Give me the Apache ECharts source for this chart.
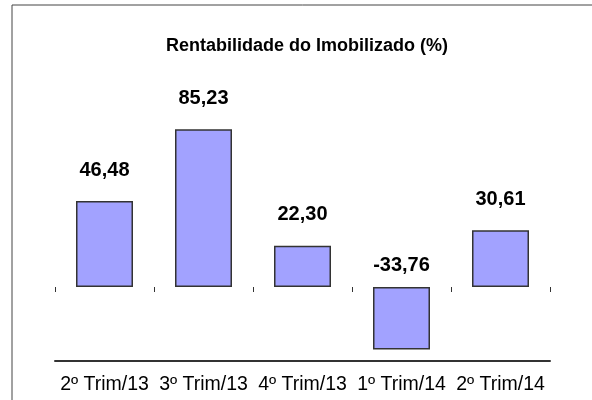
<!DOCTYPE html>
<html>
<head>
<meta charset="utf-8">
<script src="https://cdn.jsdelivr.net/npm/echarts@6/dist/echarts.min.js"></script>
<style>
  html, body { margin: 0; padding: 0; background: #fff; }
  #main { width: 592px; height: 400px; }
</style>
</head>
<body>
<div id="main"></div>
<script>
var categories = ['2º Trim/13', '3º Trim/13', '4º Trim/13', '1º Trim/14', '2º Trim/14'];
var values = [46.48, 85.23, 22.30, -33.76, 30.61];
var yMin = -40;
var yMax = 100;

var chart = echarts.init(document.getElementById('main'));

// negative bars keep their label just above the zero line
var barData = values.map(function (v) {
    return {
        value: v,
        label: { distance: v < 0 ? 12 : 21 }
    };
});

var option = {
    animation: false,
    title: {
        text: 'Rentabilidade do Imobilizado (%)',
        left: 302,
        top: 32,
        textAlign: 'center',
        textStyle: {
            fontFamily: 'Liberation Sans, Arial, sans-serif',
            fontSize: 18,
            fontWeight: 'bold',
            color: '#000'
        }
    },
    graphic: [{
        type: 'rect',
        shape: { x: 12, y: 5, width: 620, height: 440 },
        style: { fill: 'none', stroke: '#444', lineWidth: 1 },
        silent: true
    }],
    grid: { left: 55, right: 42, top: 102, bottom: 39 },
    xAxis: [{
        // ticks on the zero line, no line itself
        type: 'category',
        data: categories,
        position: 'top',
        axisLine: { show: false, onZero: true },
        axisTick: { show: true, inside: true, length: 5, lineStyle: { color: '#333', width: 1 } },
        axisLabel: { show: false },
        splitLine: { show: false }
    }, {
        type: 'category',
        data: categories,
        position: 'bottom',
        axisLine: { show: true, onZero: false, lineStyle: { color: '#333', width: 2 } },
        axisTick: { show: false },
        axisLabel: {
            interval: 0,
            hideOverlap: false,
            margin: 14,
            fontFamily: 'Liberation Sans, Arial, sans-serif',
            fontSize: 19.5,
            color: '#000'
        },
        splitLine: { show: false }
    }],
    yAxis: {
        type: 'value',
        min: yMin,
        max: yMax,
        show: false,
        splitLine: { show: false }
    },
    series: [{
        type: 'bar',
        xAxisIndex: 0,
        data: barData,
        barWidth: 57,
        itemStyle: {
            color: '#a2a2ff',
            borderColor: '#333',
            borderWidth: 1.5
        },
        label: {
            show: true,
            position: 'top',
            fontFamily: 'Liberation Sans, Arial, sans-serif',
            fontSize: 20,
            fontWeight: 'bold',
            color: '#000',
            formatter: function (p) {
                return p.value.toFixed(2).replace('.', ',');
            }
        }
    }]
};

chart.setOption(option);
</script>
</body>
</html>
